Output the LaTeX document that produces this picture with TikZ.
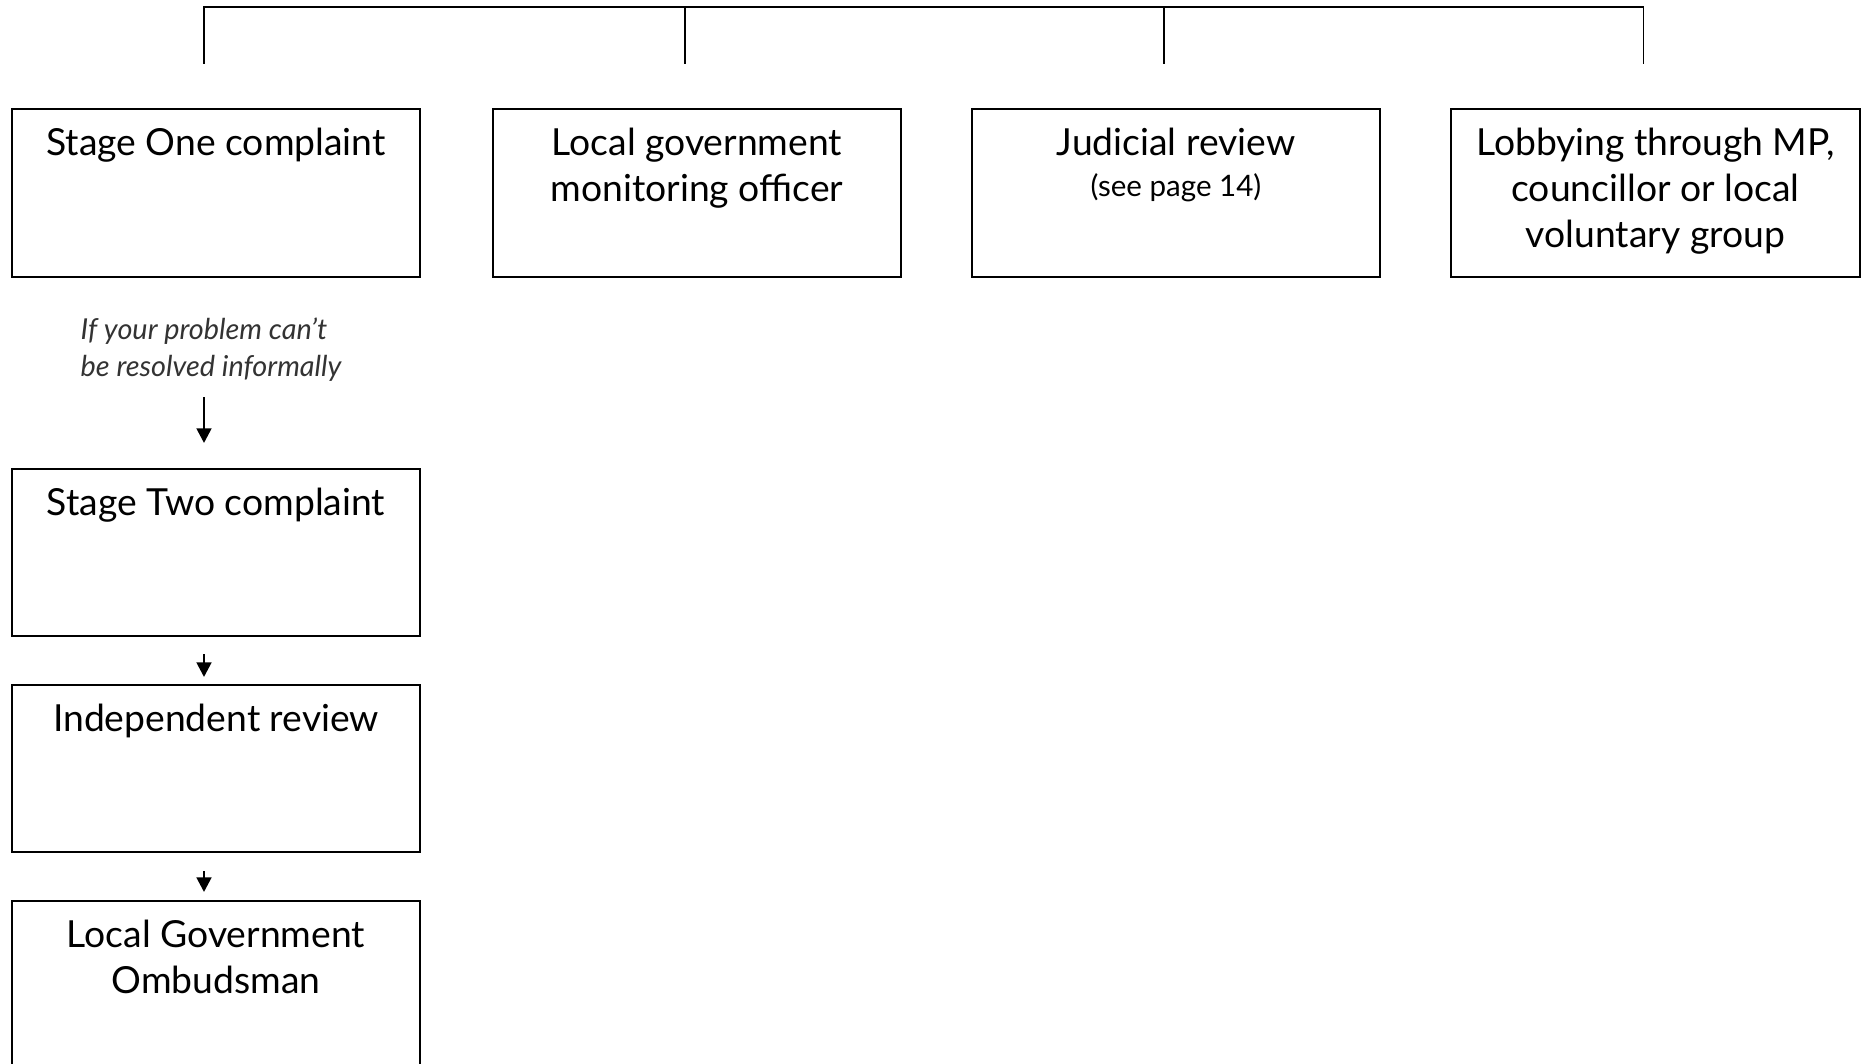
\documentclass[tikz,border=0pt]{standalone}
\usepackage{fontspec}
\setmainfont{Lato}
\usepackage{tikz}
\usetikzlibrary{arrows.meta,positioning}

\begin{document}
\begin{tikzpicture}[x=0.01cm, y=-0.01cm, >={Triangle[width=1.5mm,length=1.45mm]},
	box/.style={draw, line width=0.6pt, minimum width=4.08cm, minimum height=1.68cm, inner sep=0pt},
	boxtext/.style={align=center, inner sep=0pt, font=\fontsize{10.6}{13.1}\selectfont},
	notetext/.style={align=left, inner sep=0pt, text=black!80, font=\itshape\fontsize{8.2}{10.5}\selectfont}]
	
	\clip (0,0) rectangle (1861,1064);
	
	\node[box] (s1) at (216,193) {};
	\node[box] (lg) at (697,193) {};
	\node[box] (jr) at (1176,193) {};
	\node[box] (mp) at (1655.5,193) {};
	\node[box, minimum height=1.67cm] (s2) at (216,552.5) {};
	\node[box, minimum height=1.67cm] (ir) at (216,768.5) {};
	\node[box] (om) at (216,985) {};
	
	\node[boxtext, below=0.195cm of s1.north] (s1t) {Stage One complaint};
	\node[boxtext, below=0.195cm of lg.north] (lgt) {Local government\\monitoring officer};
	\node[boxtext, below=0.195cm of jr.north] (jrt) {Judicial review\\[-1.5pt]{\fontsize{8.4}{9}\selectfont(see page 14)}};
	\node[boxtext, below=0.195cm of mp.north] (mpt) {Lobbying through MP,\\councillor or local\\voluntary group};
	\node[boxtext, below=0.195cm of s2.north] (s2t) {Stage Two complaint};
	\node[boxtext, below=0.195cm of ir.north] (irt) {Independent review};
	\node[boxtext, below=0.195cm of om.north] (omt) {Local Government\\Ombudsman};
	
	\node[notetext, anchor=north west] (note) at (80,317) {If your problem can't\\be resolved informally};
	
	\foreach \n/\m in {s1/1,lg/2,jr/3,mp/4}{
		\coordinate (up\m) at ([shift={(-12,-101)}]\n.north);
		\coordinate (dn\m) at ([shift={(-12,-44)}]\n.north);
	}
	
	\draw[line width=0.5pt] (dn1) -- (up1) -- (up4) -- (dn4);
	\draw[line width=0.5pt] (up2) -- (dn2);
	\draw[line width=0.5pt] (up3) -- (dn3);
	
	\draw[line width=0.45pt, ->, shorten <=1.19cm, shorten >=0.25cm] ([shift={(-12,0)}]s1.south) -- ([shift={(-12,0)}]s2.north);
	\draw[line width=0.45pt, ->, shorten <=0.17cm, shorten >=0.07cm] ([shift={(-12,0)}]s2.south) -- ([shift={(-12,0)}]ir.north);
	\draw[line width=0.45pt, ->, shorten <=0.18cm, shorten >=0.08cm] ([shift={(-12,0)}]ir.south) -- ([shift={(-12,0)}]om.north);
	
\end{tikzpicture}
\end{document}
